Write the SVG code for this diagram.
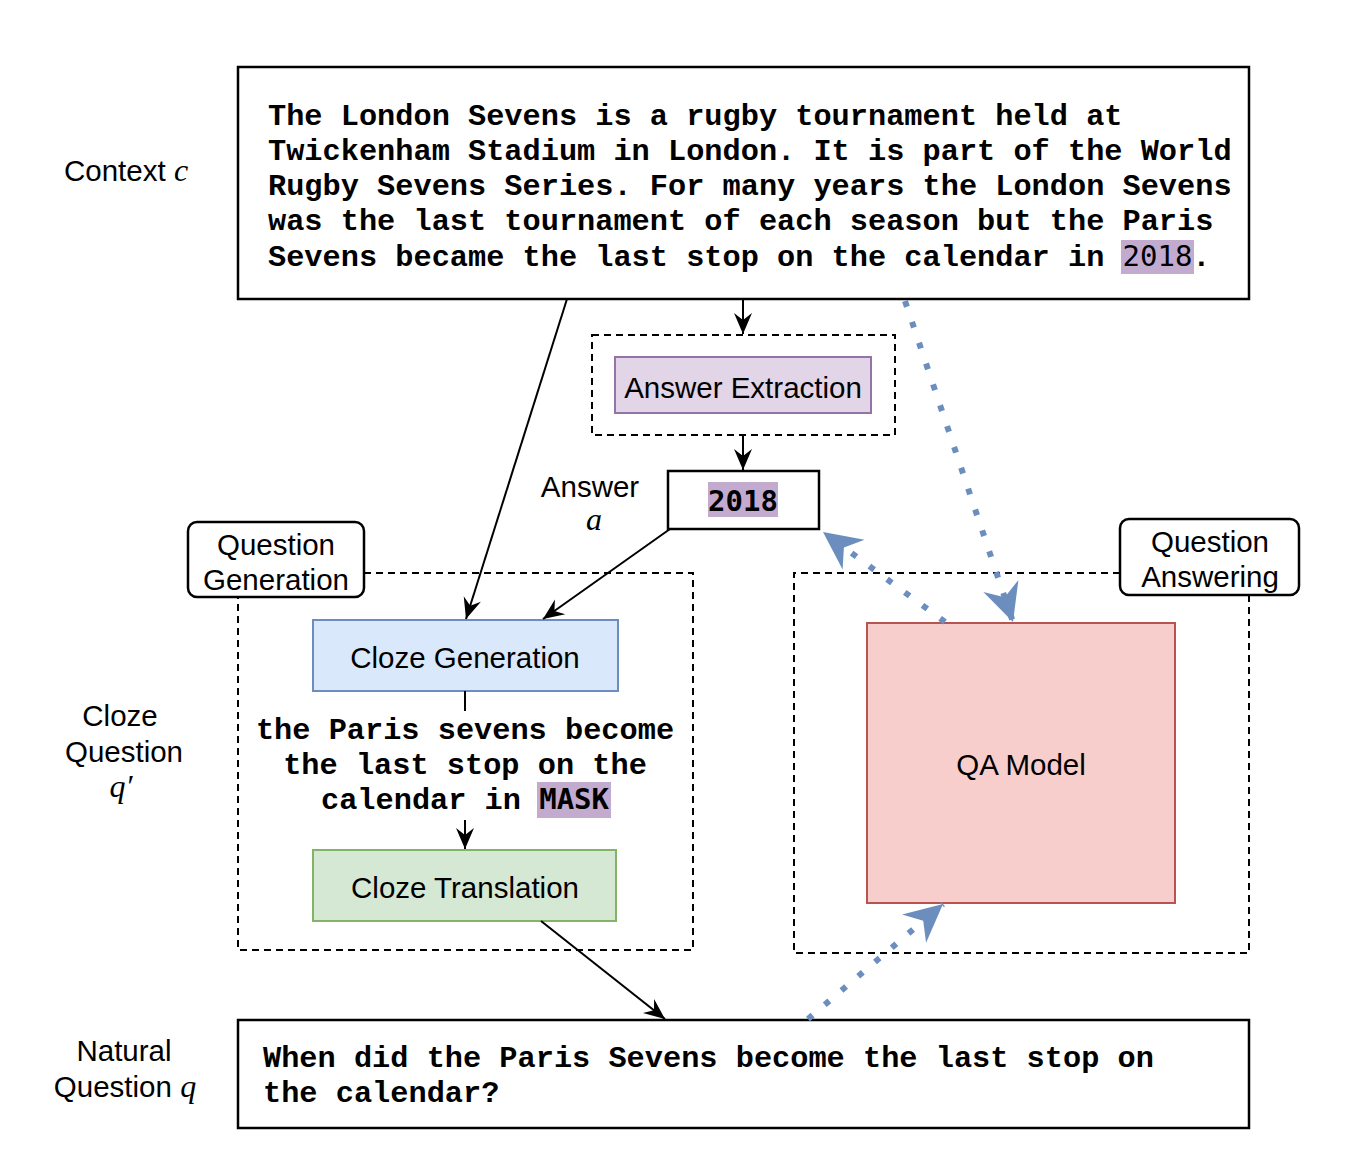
<svg xmlns="http://www.w3.org/2000/svg" width="1360" height="1166" viewBox="0 0 1360 1166">
<style>
.sans{font-family:"Liberation Sans",Arial,sans-serif;font-size:29.5px;fill:#000}
.mono{font-family:"Liberation Mono","Courier New",monospace;font-size:30.3px;font-weight:bold;fill:#000}
.dmono{font-family:"DejaVu Sans Mono",monospace;font-size:29px;fill:#000}
.math{font-family:"Liberation Serif","Times New Roman",serif;font-style:italic;font-size:32px;fill:#000}
.box{fill:#fff;stroke:#000;stroke-width:2.5}
.dash{fill:none;stroke:#000;stroke-width:2;stroke-dasharray:7 5}
.hl{fill:#c3abd0}
.conn{fill:none;stroke:#000;stroke-width:2}
.dot{fill:none;stroke:#6c8ebf;stroke-width:6;stroke-dasharray:6 16}
</style>
<defs>
<marker id="arr" viewBox="-22 -11 24 22" refX="0" refY="0" markerWidth="24" markerHeight="22" markerUnits="userSpaceOnUse" orient="auto">
<path d="M0,0 L-21,-9 L-14,0 L-21,9 Z" fill="#000"/>
</marker>
<marker id="barr" viewBox="-40 -20 42 40" refX="0" refY="0" markerWidth="42" markerHeight="40" markerUnits="userSpaceOnUse" orient="auto">
<path d="M0,0 L-38,-18.5 L-26,0 L-38,18.5 Z" fill="#6c8ebf"/>
</marker>
</defs>
<rect width="1360" height="1166" fill="#fff"/>

<g id="context-label">
<text class="sans" x="64" y="181">Context <tspan class="math">c</tspan></text>
</g>

<g id="context">
<rect class="box" x="238" y="67" width="1011" height="232"/>
<rect class="hl" x="1121" y="240" width="73" height="34"/>
<text class="mono" x="268" y="125">The London Sevens is a rugby tournament held at</text>
<text class="mono" x="268" y="160">Twickenham Stadium in London. It is part of the World</text>
<text class="mono" x="268" y="195">Rugby Sevens Series. For many years the London Sevens</text>
<text class="mono" x="268" y="230">was the last tournament of each season but the Paris</text>
<text class="mono" x="268" y="266">Sevens became the last stop on the calendar in <tspan class="dmono" font-weight="normal" font-size="30px">2018</tspan>.</text>
</g>

<g id="answer-extraction-group">
<rect class="dash" x="592" y="335" width="303" height="100"/>
</g>
<g id="answer-extraction">
<rect x="615" y="357" width="256" height="56" fill="#e1d5e7" stroke="#9673a6" stroke-width="2"/>
<text class="sans" x="743" y="398" text-anchor="middle">Answer Extraction</text>
</g>

<g id="answer-label">
<text class="sans" x="590" y="497" text-anchor="middle">Answer</text>
<text class="math" x="594" y="530" text-anchor="middle">a</text>
</g>

<g id="answer">
<rect class="box" x="668" y="471" width="151" height="58"/>
<rect class="hl" x="708" y="482" width="70" height="35"/>
<text class="dmono" x="743" y="511" text-anchor="middle" font-weight="bold">2018</text>
</g>

<g id="question-generation-group">
<path class="dash" d="M364,573 H693 V950 H238 V597"/>
</g>
<g id="question-generation-label">
<rect x="188" y="522" width="176" height="75" rx="9" fill="#fff" stroke="#000" stroke-width="2.5"/>
<text class="sans" x="276" y="555" text-anchor="middle">Question</text>
<text class="sans" x="276" y="590" text-anchor="middle">Generation</text>
</g>

<g id="cloze-generation">
<rect x="313" y="620" width="305" height="71" fill="#dae8fc" stroke="#6c8ebf" stroke-width="2"/>
<text class="sans" x="465" y="668" text-anchor="middle">Cloze Generation</text>
</g>

<g id="cloze-question">
<rect class="hl" x="537" y="782" width="74" height="36"/>
<text class="mono" x="465" y="739" text-anchor="middle">the Paris sevens become</text>
<text class="mono" x="465" y="774" text-anchor="middle">the last stop on the</text>
<text class="mono" x="465" y="809" text-anchor="middle">calendar in <tspan class="dmono" font-weight="bold" font-size="30px">MASK</tspan></text>
</g>

<g id="cloze-question-label">
<text class="sans" x="120" y="726" text-anchor="middle">Cloze</text>
<text class="sans" x="124" y="762" text-anchor="middle">Question</text>
<text class="math" x="121" y="797" text-anchor="middle">q′</text>
</g>

<g id="cloze-translation">
<rect x="313" y="850" width="303" height="71" fill="#d5e8d4" stroke="#82b366" stroke-width="2"/>
<text class="sans" x="465" y="898" text-anchor="middle">Cloze Translation</text>
</g>

<g id="question-answering-group">
<path class="dash" d="M1120,573 H794 V953 H1249 V595"/>
</g>
<g id="question-answering-label">
<rect x="1120" y="519" width="179" height="76" rx="9" fill="#fff" stroke="#000" stroke-width="2.5"/>
<text class="sans" x="1210" y="552" text-anchor="middle">Question</text>
<text class="sans" x="1210" y="587" text-anchor="middle">Answering</text>
</g>

<g id="qa-model">
<rect x="867" y="623" width="308" height="280" fill="#f8cecc" stroke="#b85450" stroke-width="2"/>
<text class="sans" x="1021" y="775" text-anchor="middle">QA Model</text>
</g>

<g id="natural-question-label">
<text class="sans" x="124" y="1061" text-anchor="middle">Natural</text>
<text class="sans" x="125" y="1097" text-anchor="middle">Question <tspan class="math">q</tspan></text>
</g>

<g id="natural-question">
<rect class="box" x="238" y="1020" width="1011" height="108"/>
<text class="mono" x="263" y="1067">When did the Paris Sevens become the last stop on</text>
<text class="mono" x="263" y="1102">the calendar?</text>
</g>

<g id="connectors">
<path class="conn" d="M743,299 V334" marker-end="url(#arr)"/>
<path class="conn" d="M743,435 V470" marker-end="url(#arr)"/>
<path class="conn" d="M567,299 L466,619" marker-end="url(#arr)"/>
<path class="conn" d="M670,529 L543,619" marker-end="url(#arr)"/>
<path class="conn" d="M465,691 V711"/>
<path class="conn" d="M465,820 V849" marker-end="url(#arr)"/>
<path class="conn" d="M541,921 L665,1019" marker-end="url(#arr)"/>
<path class="dot" d="M905,301 L1013,622" marker-end="url(#barr)"/>
<path class="dot" d="M945,622 L823,532" marker-end="url(#barr)"/>
<path class="dot" d="M808,1019 L943,904" marker-end="url(#barr)"/>
</g>
</svg>
